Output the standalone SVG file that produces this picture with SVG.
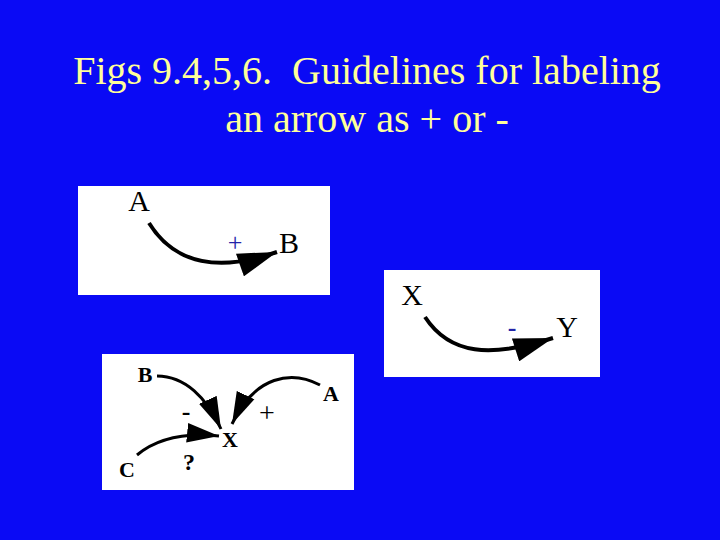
<svg xmlns="http://www.w3.org/2000/svg" width="720" height="540" viewBox="0 0 720 540">
<style>
.title{font-size:40px;fill:#FFFF99;white-space:pre}
.lbl{font-size:30px;fill:#000}
.blbl{font-size:22px;font-weight:bold;fill:#000}
.sign{font-size:26px;fill:#2323a8}
.panel{fill:#fff}
.edge{fill:none;stroke:#000;stroke-width:4}
.edge2{fill:none;stroke:#000;stroke-width:3}
</style>
<defs>
<marker id="bigHead" markerUnits="userSpaceOnUse" markerWidth="40" markerHeight="24" viewBox="0 0 36 22" refX="36" refY="11" orient="auto">
<path d="M0,0 L36,11 L0,22 Z" fill="#000"/>
</marker>
<marker id="smallHead" markerUnits="userSpaceOnUse" markerWidth="32" markerHeight="20" viewBox="0 0 28 17" refX="28" refY="8.5" orient="auto">
<path d="M0,0 L28,8.5 L0,17 Z" fill="#000"/>
</marker>
</defs>
<rect width="720" height="540" fill="#0a0af5"/>
<g id="title">
<text class="title" style="font-family:'Liberation Serif',serif" x="367" y="84" text-anchor="middle">Figs 9.4,5,6.  Guidelines for labeling</text>
<text class="title" style="font-family:'Liberation Serif',serif" x="367" y="132" text-anchor="middle">an arrow as + or -</text>
</g>
<rect class="panel" x="78" y="186" width="252" height="109"/>
<rect class="panel" x="384" y="270" width="216" height="107"/>
<rect class="panel" x="102" y="354" width="252" height="136"/>
<g id="connectors">
<path class="edge" d="M149,223 C175,265 220,272 277,252" marker-end="url(#bigHead)"/>
<path class="edge" d="M425,317 C450,355 490,358 553,338" marker-end="url(#bigHead)"/>
<path class="edge2" d="M157,376 C185,376 207,398 221,429" marker-end="url(#smallHead)"/>
<path class="edge2" d="M320,385 C292,370 255,375 232,424" marker-end="url(#smallHead)"/>
<path class="edge2" d="M137,455 C155,440 180,432 219,436" marker-end="url(#smallHead)"/>
</g>
<g id="node-A1"><text class="lbl" style="font-family:'Liberation Serif',serif" x="139" y="211" text-anchor="middle">A</text></g>
<g id="node-B1"><text class="lbl" style="font-family:'Liberation Serif',serif" x="289" y="253" text-anchor="middle">B</text></g>
<text class="sign" style="font-family:'Liberation Serif',serif" x="235" y="251" text-anchor="middle">+</text>
<g id="node-X2"><text class="lbl" style="font-family:'Liberation Serif',serif" x="412" y="305" text-anchor="middle">X</text></g>
<g id="node-Y2"><text class="lbl" style="font-family:'Liberation Serif',serif" x="567" y="337" text-anchor="middle">Y</text></g>
<text class="sign" style="font-family:'Liberation Serif',serif" x="512" y="336" text-anchor="middle" font-weight="bold">-</text>
<g id="node-B3"><text class="blbl" style="font-family:'Liberation Serif',serif" x="145" y="382" text-anchor="middle">B</text></g>
<g id="node-A3"><text class="blbl" style="font-family:'Liberation Serif',serif" x="331" y="401" text-anchor="middle">A</text></g>
<g id="node-X3"><text class="blbl" style="font-family:'Liberation Serif',serif" x="230" y="447" text-anchor="middle">X</text></g>
<g id="node-C3"><text class="blbl" style="font-family:'Liberation Serif',serif" x="127" y="477" text-anchor="middle">C</text></g>
<text class="blbl" x="186" y="420" text-anchor="middle" style="font-family:'Liberation Serif',serif;font-size:26px">-</text>
<text class="lbl" x="267" y="422" text-anchor="middle" style="font-family:'Liberation Serif',serif;font-size:28px">+</text>
<text class="blbl" x="189" y="470" text-anchor="middle" style="font-family:'Liberation Serif',serif;font-size:24px">?</text>
</svg>
